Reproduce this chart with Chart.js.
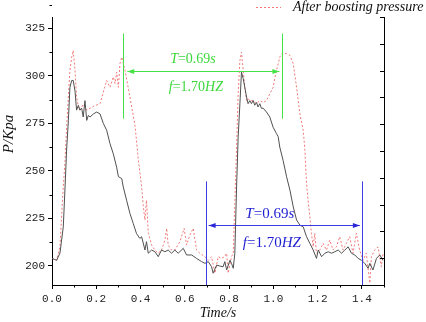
<!DOCTYPE html>
<html>
<head>
<meta charset="utf-8">
<script src="https://cdn.jsdelivr.net/npm/chart.js@4.4.1/dist/chart.umd.min.js"></script>
<style>
  body { margin: 0; background: #fff; }
  canvas { display: block; }
</style>
</head>
<body>
<canvas id="pressureChart" width="426" height="322"></canvas>
<script>
// original pressure (solid grey line)
const baseT = [0.000, 0.010, 0.021, 0.036, 0.051, 0.059, 0.066, 0.074, 0.081, 0.089, 0.096, 0.104, 0.111, 0.119, 0.126, 0.134, 0.141, 0.149, 0.157, 0.164, 0.172, 0.187, 0.202, 0.217, 0.232, 0.247, 0.262, 0.277, 0.292, 0.300, 0.315, 0.322, 0.337, 0.352, 0.367, 0.382, 0.397, 0.405, 0.420, 0.427, 0.435, 0.450, 0.465, 0.480, 0.495, 0.510, 0.525, 0.540, 0.555, 0.570, 0.593, 0.608, 0.631, 0.653, 0.676, 0.691, 0.706, 0.721, 0.728, 0.744, 0.758, 0.773, 0.781, 0.789, 0.804, 0.811, 0.819, 0.826, 0.834, 0.841, 0.849, 0.856, 0.864, 0.871, 0.879, 0.886, 0.894, 0.901, 0.909, 0.916, 0.924, 0.931, 0.939, 0.946, 0.954, 0.969, 0.984, 0.999, 1.014, 1.022, 1.029, 1.044, 1.060, 1.075, 1.090, 1.105, 1.120, 1.135, 1.150, 1.165, 1.180, 1.195, 1.203, 1.218, 1.233, 1.248, 1.263, 1.278, 1.293, 1.308, 1.323, 1.338, 1.353, 1.368, 1.383, 1.398, 1.413, 1.428, 1.436, 1.450, 1.466, 1.481, 1.496];
const baseP = [204, 203.5, 203, 206.8, 220.6, 241.6, 261, 276.6, 294, 297.6, 297.6, 292, 282, 284.5, 282, 283, 278.4, 287, 276.6, 279.2, 278.4, 280, 281, 280, 275, 271.4, 264.4, 259, 252, 247, 246, 241.6, 234.6, 227.7, 222.4, 217, 214.5, 215.4, 208.4, 212.8, 206.7, 208.4, 207.5, 204.9, 208.4, 207.5, 208.4, 206.7, 208.4, 206.7, 209.3, 205.8, 205.8, 204, 202.3, 201.4, 202.3, 199.6, 196.2, 200.5, 200, 199.6, 202.3, 197.9, 203, 201.4, 198.8, 206.7, 241.6, 267.9, 285.4, 302, 298.5, 294, 288.9, 285.4, 287, 285.4, 287, 284.6, 286, 283.7, 285.4, 283, 283, 281, 278.4, 273, 269.7, 268, 262.6, 255.6, 246.9, 239.9, 231.1, 224.2, 221.5, 220.6, 215.4, 211.9, 208.4, 204, 208.4, 204.9, 206.7, 207.5, 206.7, 207.5, 208.4, 206.7, 208.4, 210.1, 206.7, 205.8, 204, 203, 201.4, 198.8, 201.4, 197.9, 204, 205.8, 203];

// after boosting pressure (dotted pink line)
const boostT = [0.000, 0.021, 0.036, 0.044, 0.051, 0.059, 0.066, 0.074, 0.081, 0.089, 0.096, 0.104, 0.111, 0.119, 0.126, 0.141, 0.157, 0.172, 0.187, 0.217, 0.232, 0.247, 0.262, 0.277, 0.285, 0.292, 0.300, 0.307, 0.315, 0.330, 0.344, 0.360, 0.375, 0.390, 0.405, 0.412, 0.420, 0.427, 0.435, 0.442, 0.450, 0.465, 0.480, 0.495, 0.510, 0.518, 0.525, 0.540, 0.555, 0.578, 0.597, 0.608, 0.623, 0.638, 0.653, 0.668, 0.691, 0.706, 0.721, 0.736, 0.751, 0.765, 0.780, 0.789, 0.796, 0.811, 0.819, 0.826, 0.834, 0.841, 0.849, 0.856, 0.864, 0.871, 0.879, 0.886, 0.894, 0.909, 0.924, 0.939, 0.954, 0.969, 0.984, 0.999, 1.007, 1.014, 1.022, 1.029, 1.037, 1.044, 1.060, 1.075, 1.090, 1.105, 1.120, 1.135, 1.142, 1.150, 1.157, 1.165, 1.172, 1.180, 1.187, 1.195, 1.210, 1.225, 1.240, 1.255, 1.270, 1.285, 1.300, 1.315, 1.330, 1.345, 1.360, 1.375, 1.390, 1.405, 1.420, 1.436, 1.443, 1.458, 1.473, 1.488, 1.496];
const boostP = [204, 203, 210, 227.7, 241.6, 255.6, 273, 288.9, 302.9, 309.9, 313.4, 302.9, 288.9, 284, 282, 285, 282, 283, 284, 285.4, 291.5, 297.6, 294, 299.5, 296, 302, 294, 306.4, 309.9, 302.9, 294, 283.6, 274, 256, 241.6, 232, 224.2, 234.6, 217.2, 214.5, 211, 208.4, 206.7, 208.4, 213.6, 219.8, 211, 208.4, 208.4, 212.8, 219.8, 211, 216.3, 219.8, 208.4, 206.7, 204.9, 203, 204.9, 196.2, 204.9, 204, 204.9, 206.7, 196.2, 204.9, 206.7, 233, 262.6, 290.6, 308, 312.5, 302.9, 294, 287, 288, 287, 287, 285.4, 287, 286, 287, 290.6, 294, 299, 302.9, 306.4, 309.9, 311.5, 312, 311.7, 310.8, 306.4, 294, 280, 271.4, 262, 243.4, 234.6, 225.9, 217.2, 210.1, 217.2, 206.7, 208.4, 211.9, 208.4, 213.6, 208.4, 210.1, 215.4, 208.4, 211.9, 215.4, 206.7, 217.2, 208.4, 203, 206.7, 191, 204.9, 208.4, 210, 199.6, 206.7];

const xTicks = [0, 0.2, 0.4, 0.6, 0.8, 1.0, 1.2, 1.4];
const yTicks = [200, 225, 250, 275, 300, 325];

// period markers (time in s, pressure in Kpa)
const greenMarks = [0.322, 1.041];
const greenSpan = [277.5, 322.3];
const greenArrowP = 302.4;
const blueMarks = [0.694, 1.400];
const blueTop = 244.5;
const blueArrowP = 221.4;
const periodText = 'T=0.69s';
const freqText = 'f=1.70HZ';

const toPoints = (ts, ps) => ts.map((t, i) => ({ x: t, y: ps[i] }));

function richText(ctx, parts, cx, cy, size, color) {
  let w = 0;
  parts.forEach(p => {
    ctx.font = (p[1] ? 'italic ' : '') + size + 'px "Liberation Serif"';
    w += ctx.measureText(p[0]).width;
  });
  let xx = cx - w / 2;
  ctx.fillStyle = color;
  ctx.textAlign = 'left';
  ctx.textBaseline = 'middle';
  parts.forEach(p => {
    ctx.font = (p[1] ? 'italic ' : '') + size + 'px "Liberation Serif"';
    ctx.fillText(p[0], xx, cy);
    xx += ctx.measureText(p[0]).width;
  });
}

function arrowHead(ctx, x, y, dir) {
  ctx.beginPath();
  ctx.moveTo(x, y);
  ctx.lineTo(x - dir * 7, y - 2.5);
  ctx.lineTo(x - dir * 7, y + 2.5);
  ctx.closePath();
  ctx.fill();
}

const extras = {
  id: 'extras',
  afterDraw(chart) {
    const { ctx, scales: { x, y, y2 }, chartArea: a } = chart;
    ctx.save();
    ctx.strokeStyle = '#000';
    ctx.lineWidth = 1;

    // minor ticks
    ctx.beginPath();
    for (let i = 0; i < xTicks.length; i++) {
      const px = Math.round(x.getPixelForValue(xTicks[i] + 0.1)) + 0.5;
      ctx.moveTo(px, a.bottom); ctx.lineTo(px, a.bottom + 2.5);
    }
    for (let i = 0; i < yTicks.length; i++) {
      const py = Math.round(y.getPixelForValue(yTicks[i] + 12.5)) + 0.5;
      ctx.moveTo(a.left, py); ctx.lineTo(a.left - 2.5, py);
    }
    // right axis ticks, pointing inward
    y2.ticks.forEach(t => {
      const py = Math.round(y2.getPixelForValue(t.value)) + 0.5;
      ctx.moveTo(a.right, py); ctx.lineTo(a.right - 4, py);
    });
    ctx.stroke();

    // green period marker
    const g = 'rgb(70,225,70)';
    ctx.strokeStyle = g; ctx.fillStyle = g;
    ctx.beginPath();
    greenMarks.forEach(t => {
      const px = Math.round(x.getPixelForValue(t)) + 0.5;
      ctx.moveTo(px, y.getPixelForValue(greenSpan[1]));
      ctx.lineTo(px, y.getPixelForValue(greenSpan[0]));
    });
    const gy = Math.round(y.getPixelForValue(greenArrowP)) + 0.5;
    const gx0 = x.getPixelForValue(greenMarks[0]) + 4;
    const gx1 = x.getPixelForValue(greenMarks[1]) - 3;
    ctx.moveTo(gx0, gy); ctx.lineTo(gx1, gy);
    ctx.stroke();
    arrowHead(ctx, gx0, gy, -1);
    arrowHead(ctx, gx1, gy, 1);
    richText(ctx, [['T', true], ['=0.69', false], ['s', true]], x.getPixelForValue(0.637), y.getPixelForValue(308.7), 14, 'rgb(60,215,60)');
    richText(ctx, [['f', true], ['=1.70', false], ['HZ', true]], x.getPixelForValue(0.65), y.getPixelForValue(294), 14, 'rgb(60,215,60)');

    // blue period marker
    ctx.strokeStyle = 'rgb(60,60,225)'; ctx.fillStyle = 'rgb(40,40,215)';
    ctx.beginPath();
    blueMarks.forEach(t => {
      const px = Math.round(x.getPixelForValue(t)) + 0.5;
      ctx.moveTo(px, y.getPixelForValue(blueTop));
      ctx.lineTo(px, a.bottom);
    });
    const by = Math.round(y.getPixelForValue(blueArrowP)) + 0.5;
    const bx0 = x.getPixelForValue(blueMarks[0]) + 3;
    const bx1 = x.getPixelForValue(blueMarks[1]) - 2;
    ctx.moveTo(bx0, by); ctx.lineTo(bx1, by);
    ctx.stroke();
    arrowHead(ctx, bx0, by, -1);
    arrowHead(ctx, bx1, by, 1);
    richText(ctx, [['T', true], ['=0.69', false], ['s', true]], x.getPixelForValue(0.984), y.getPixelForValue(227.3), 15, 'rgb(30,30,210)');
    richText(ctx, [['f', true], ['=1.70', false], ['HZ', true]], x.getPixelForValue(0.993), y.getPixelForValue(212), 15, 'rgb(30,30,210)');

    // axis titles
    ctx.fillStyle = '#111';
    ctx.font = 'italic 14px "Liberation Serif"';
    ctx.textAlign = 'center';
    ctx.textBaseline = 'middle';
    ctx.fillText('Time/s', (a.left + a.right) / 2, 313);
    ctx.save();
    ctx.translate(9, 134);
    ctx.rotate(-Math.PI / 2);
    ctx.font = 'italic 15px "Liberation Serif"';
    ctx.fillText('P/Kpa', 0, 0);
    ctx.restore();

    // legend (only the second entry is visible)
    ctx.strokeStyle = 'rgb(240,120,120)';
    ctx.setLineDash([2, 2]);
    ctx.beginPath();
    ctx.moveTo(256, 7.5); ctx.lineTo(281, 7.5);
    ctx.stroke();
    ctx.setLineDash([]);
    ctx.fillStyle = '#111';
    ctx.textAlign = 'left';
    ctx.font = 'italic 14px "Liberation Serif"';
    ctx.fillText('After boosting pressure', 293, 7);
    ctx.restore();
  }
};

const axisFont = { family: '"Liberation Mono", monospace', size: 11 };

new Chart(document.getElementById('pressureChart'), {
  type: 'line',
  data: {
    datasets: [
      {
        label: 'Before boosting pressure',
        data: toPoints(baseT, baseP),
        borderColor: 'rgb(80,80,80)',
        borderWidth: 1,
        pointRadius: 0,
        tension: 0
      },
      {
        label: 'After boosting pressure',
        data: toPoints(boostT, boostP),
        borderColor: 'rgb(240,120,120)',
        borderWidth: 1,
        borderDash: [2, 2],
        pointRadius: 0,
        tension: 0
      }
    ]
  },
  options: {
    responsive: false,
    animation: false,
    layout: { padding: { top: 17, left: 0, right: 0, bottom: 0 } },
    plugins: { legend: { display: false }, tooltip: { enabled: false } },
    scales: {
      x: {
        type: 'linear',
        min: 0,
        max: 1.5,
        afterBuildTicks: s => { s.ticks = xTicks.map(v => ({ value: v })); },
        afterFit: s => { s.height = 37; },
        ticks: { callback: v => v.toFixed(1), font: axisFont, color: '#222', padding: 3, maxRotation: 0 },
        grid: { drawOnChartArea: false, tickLength: 4, color: '#000' },
        border: { color: '#000', width: 1 }
      },
      y: {
        min: 190,
        max: 331,
        afterBuildTicks: s => { s.ticks = yTicks.map(v => ({ value: v })); },
        afterFit: s => { s.width = 52; },
        ticks: { font: axisFont, color: '#222', padding: 3 },
        grid: { drawOnChartArea: false, tickLength: 4, color: '#000' },
        border: { color: '#000', width: 1 }
      },
      y2: {
        position: 'right',
        min: 0,
        max: 10,
        ticks: { display: false, stepSize: 1 },
        afterFit: s => { s.width = 42; },
        grid: { drawOnChartArea: false, drawTicks: false },
        border: { color: '#000', width: 1 }
      }
    }
  },
  plugins: [extras]
});
</script>
</body>
</html>
